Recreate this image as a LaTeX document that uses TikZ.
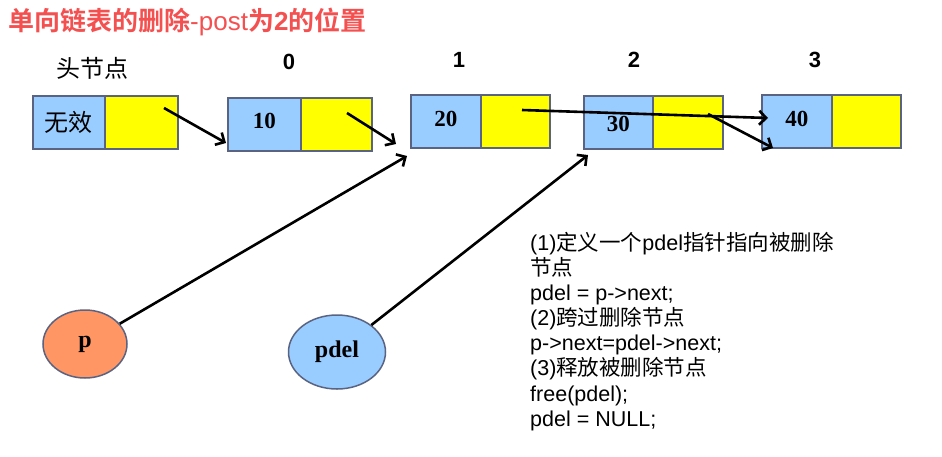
\documentclass[tikz,border=0pt]{standalone}
\usepackage{fontspec}
\setmainfont{Liberation Serif}
\setsansfont{Liberation Sans}
\newfontfamily\cjk{Noto Sans CJK SC}
\newfontfamily\cjkb{Noto Sans CJK SC Bold}
\usetikzlibrary{arrows.meta,shapes.geometric}
\definecolor{cellblue}{RGB}{153,204,255}
\definecolor{cellyellow}{RGB}{255,255,0}
\definecolor{cellborder}{RGB}{90,100,130}
\definecolor{porange}{RGB}{255,150,100}
\definecolor{titlered}{RGB}{245,80,80}
\tikzset{
  datacell/.style={draw=cellborder,line width=1.5pt,fill=cellblue,minimum height=53pt,inner sep=0pt,anchor=north west},
  ptrcell/.style={draw=cellborder,line width=1.5pt,fill=cellyellow,minimum height=53pt,inner sep=0pt,anchor=north west},
  link/.style={line width=2.6pt,-{Straight Barb[length=7pt,width=14pt,line width=2.6pt]}},
  idx/.style={font=\sffamily\bfseries\fontsize{22}{24}\selectfont},
  val/.style={font=\bfseries\fontsize{23}{26}\selectfont},
  ptrnode/.style={ellipse,draw=cellborder,line width=1.5pt,inner sep=0pt,font=\bfseries\fontsize{24}{26}\selectfont},
  codeline/.style={anchor=base west,inner sep=0pt,font=\sffamily\fontsize{21.5}{24}\selectfont}
}
\begin{document}
\begin{tikzpicture}[x=1pt,y=-1pt]
\useasboundingbox[fill=white] (0,0) rectangle (942,456);
% title
\node[anchor=west,inner sep=0pt,text=titlered,font=\fontsize{26}{30}\selectfont] (title) at (8,22)
  {{\cjkb 单向链表的删除}{\sffamily -post}{\cjkb 为}{\sffamily\bfseries 2}{\cjkb 的位置}};
% labels
\node[font=\cjk\fontsize{24}{26}\selectfont] (lh) at (92,68) {头节点};
\node[idx] (l0) at (289,62) {0};
\node[idx] (l1) at (459,60) {1};
\node[idx] (l2) at (634,60) {2};
\node[idx] (l3) at (815,60) {3};
% head
\node[datacell,minimum width=72pt] (hd) at (32,95) {};
\node[ptrcell,minimum width=73pt] (hp) at (104,95) {};
\node[font=\cjk\fontsize{24}{26}\selectfont] (hdt) at (hd.center) {无效};
% node 0
\node[datacell,minimum width=73pt] (n0d) at (227,97) {};
\node[ptrcell,minimum width=71pt] (n0p) at (300,97) {};
\node[val] (n0t) at ([yshift=3pt]n0d.center) {10};
% node 1
\node[datacell,minimum width=70pt] (n1d) at (410,94) {};
\node[ptrcell,minimum width=69pt] (n1p) at (480,94) {};
\node[val] (n1t) at ([yshift=2pt]n1d.center) {20};
% node 2
\node[datacell,minimum width=69pt] (n2d) at (583,95) {};
\node[ptrcell,minimum width=70pt] (n2p) at (652,95) {};
\node[val] (n2t) at ([yshift=-2pt]n2d.center) {30};
% node 3
\node[datacell,minimum width=70pt] (n3d) at (761,94) {};
\node[ptrcell,minimum width=69pt] (n3p) at (831,94) {};
\node[val] (n3t) at ([yshift=2pt]n3d.center) {40};
% pointer ellipses
\node[ptrnode,fill=porange,minimum width=84pt,minimum height=68pt] (p) at (85,344) {p};
\node[ptrnode,fill=cellblue,minimum width=97pt,minimum height=74pt] (pdel) at (337,352) {pdel};
% connector endpoints
\coordinate (s0) at (164,108);
\coordinate (e0) at (226,143);
\coordinate (s1) at (347,113);
\coordinate (e1) at (396,144);
\coordinate (s2) at (522,110);
\coordinate (e2) at (768,118);
\coordinate (s3) at (708,114);
\coordinate (e3) at (773,148);
\coordinate (ep) at (407,156);
\coordinate (ed) at (588,155);
\draw[link] (s0) -- (e0);
\draw[link] (s1) -- (e1);
\draw[link] (s2) -- (e2);
\draw[link] (s3) -- (e3);
\draw[link] (p) -- (ep);
\draw[link] (pdel) -- (ed);
% code text
\node[codeline] (c1) at (530,250) {(1){\cjk 定义一个}pdel{\cjk 指针指向被删除}};
\node[codeline] (c2) at (530,275) {{\cjk 节点}};
\node[codeline] (c3) at (530,300) {pdel = p->next;};
\node[codeline] (c4) at (530,325) {(2){\cjk 跨过删除节点}};
\node[codeline] (c5) at (530,350) {p->next=pdel->next;};
\node[codeline] (c6) at (530,375) {(3){\cjk 释放被删除节点}};
\node[codeline] (c7) at (530,401) {free(pdel);};
\node[codeline] (c8) at (530,426) {pdel = NULL;};
\end{tikzpicture}
\end{document}
